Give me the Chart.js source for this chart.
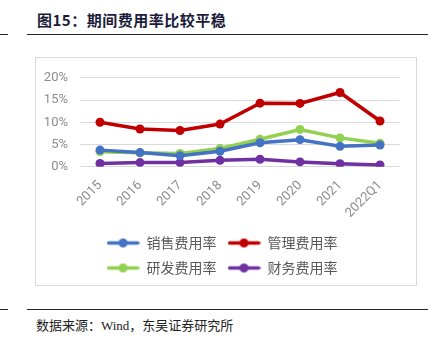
<!DOCTYPE html>
<html>
<head>
<meta charset="utf-8">
<script src="https://cdn.jsdelivr.net/npm/chart.js@4.4.0/dist/chart.umd.min.js"></script>
<style>
  body { margin: 0; width: 442px; height: 345px; background: #fff; position: relative; overflow: hidden; }
  .title { position: absolute; left: 37px; top: 9px; font: bold 15px "Noto Sans CJK SC", sans-serif; color: #1c1c3a; letter-spacing: 0.5px; }
  .rule { position: absolute; height: 0; border-top: 1.5px solid #222; }
  .frame { position: absolute; left: 35px; top: 57px; width: 380px; height: 227px; border: 1px solid #d9d9d9; }
  .chartbox { position: absolute; left: 36px; top: 58px; width: 380px; height: 227px; }
  .source { position: absolute; left: 36px; top: 315px; font: 13px "Liberation Serif", "Noto Sans CJK SC", serif; color: #222; }
</style>
</head>
<body>
<div class="title">图15：期间费用率比较平稳</div>
<div class="rule" style="left:0;top:34px;width:8px"></div>
<div class="rule" style="left:27px;top:34px;width:401px"></div>
<div class="frame"></div>
<div class="chartbox"><canvas id="chart1"></canvas></div>
<div class="rule" style="left:0;top:309px;width:8px"></div>
<div class="rule" style="left:27px;top:309px;width:401px"></div>
<div class="source">数据来源：Wind，东吴证券研究所</div>

<script>
const labels = ['2015', '2016', '2017', '2018', '2019', '2020', '2021', '2022Q1'];

const salesRate = [3.75, 3.2, 2.5, 3.5, 5.4, 6.1, 4.6, 4.9];
const adminRate = [10.0, 8.5, 8.15, 9.6, 14.3, 14.25, 16.7, 10.3];
const rdRate = [3.4, 3.15, 3.0, 4.1, 6.2, 8.4, 6.5, 5.3];
const financeRate = [0.75, 0.95, 0.95, 1.45, 1.7, 1.1, 0.7, 0.4];

const yTicks = [0, 5, 10, 15, 20];

const colors = ['#4472C4', '#C00000', '#92D050', '#7030A0'];

// legend icon: line with a dot in the middle
function makeIcon(color) {
  const c = document.createElement('canvas');
  c.width = 33; c.height = 11;
  const g = c.getContext('2d');
  g.strokeStyle = color;
  g.lineWidth = 3.5;
  g.lineCap = 'round';
  g.beginPath(); g.moveTo(2, 5.5); g.lineTo(31, 5.5); g.stroke();
  g.fillStyle = color;
  g.beginPath(); g.arc(16.5, 5.5, 4.5, 0, Math.PI * 2); g.fill();
  return c;
}
const legendIcons = colors.map(makeIcon);

function series(label, values, color) {
  return {
    label: label,
    data: values,
    borderColor: color,
    backgroundColor: color,
    borderWidth: 3.5,
    pointRadius: 4.5,
    pointHoverRadius: 4.5,
    pointBorderWidth: 0,
    tension: 0
  };
}

const data = {
  labels: labels,
  datasets: [
    series('销售费用率', salesRate, colors[0]),
    series('管理费用率', adminRate, colors[1]),
    series('研发费用率', rdRate, colors[2]),
    series('财务费用率', financeRate, colors[3])
  ]
};

const config = {
  type: 'line',
  data: data,
  options: {
    responsive: true,
    maintainAspectRatio: false,
    animation: false,
    layout: { padding: { left: 8, right: 16, top: 12, bottom: 0 } },
    plugins: {
      tooltip: { enabled: false },
      legend: {
        position: 'bottom',
        labels: {
          usePointStyle: true,
          pointStyleWidth: 33,
          padding: 11,
          color: '#595959',
          font: { family: '"Noto Sans CJK SC", sans-serif', size: 14 },
          generateLabels(chart) {
            const items = Chart.defaults.plugins.legend.labels.generateLabels(chart);
            items.forEach((it, i) => { it.pointStyle = legendIcons[i]; });
            return items;
          }
        }
      }
    },
    scales: {
      x: {
        offset: true,
        grid: { display: false },
        border: { display: false },
        afterFit(scale) { scale.height += 1; scale.paddingLeft = 0; scale.paddingRight = 0; },
        ticks: {
          minRotation: 45,
          maxRotation: 45,
          color: '#8c8c8c',
          padding: 3,
          labelOffset: 0,
          font: { family: 'Roboto, sans-serif', size: 13 }
        }
      },
      y: {
        min: 0,
        max: 20,
        afterBuildTicks(axis) { axis.ticks = yTicks.map(v => ({ value: v })); },
        afterFit(scale) { scale.width = 36; },
        grid: { color: '#d9d9d9', lineWidth: 1, drawTicks: false },
        border: { display: false },
        ticks: {
          padding: 12,
          color: '#8c8c8c',
          font: { family: 'Roboto, sans-serif', size: 13 },
          callback: v => v + '%'
        }
      }
    }
  }
};

const myChart = new Chart(document.getElementById('chart1'), config);
</script>
</body>
</html>
